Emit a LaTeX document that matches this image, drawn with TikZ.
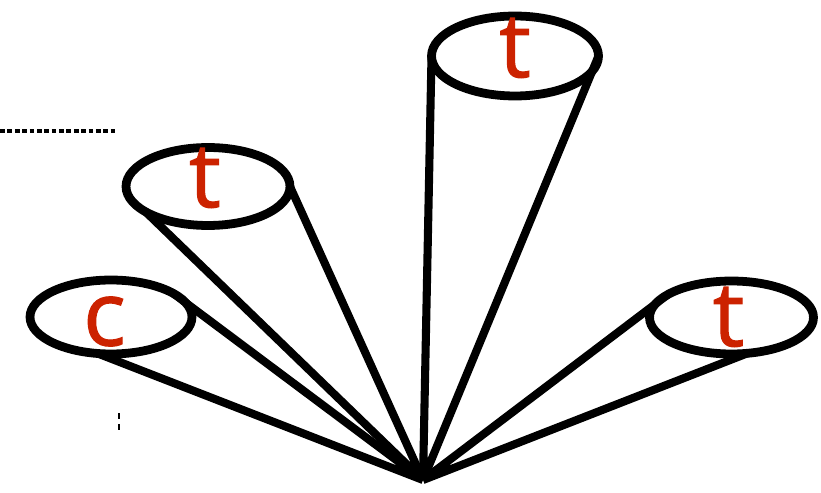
\documentclass[tikz,border=0pt]{standalone}
\usepackage{fontspec}
\newfontfamily\lettres[FakeBold=1.2]{Open Sans}
\usetikzlibrary{shapes.geometric}
\definecolor{rouge}{RGB}{204,34,0}
\begin{document}
\begin{tikzpicture}[x=0.02cm, y=-0.02cm,
  bord/.style={draw, ellipse, line width=5pt, inner sep=0pt, outer sep=0pt},
  lettre/.style={text=rouge, font=\lettres\fontsize{51}{51}\selectfont, inner sep=0pt},
  rayon/.style={line width=4.6pt}]
  \useasboundingbox (0,0) rectangle (821,493);

  % Sommet commun
  \coordinate (o) at (423,480);

  % Ellipses
  \node[bord, minimum width=3.34cm, minimum height=1.6cm] (haut) at (515,56) {};
  \node[bord, minimum width=3.28cm, minimum height=1.56cm] (gh) at (208,186.5) {};
  \node[bord, minimum width=3.24cm, minimum height=1.48cm] (gb) at (111,317) {};
  \node[bord, minimum width=3.28cm, minimum height=1.46cm] (dr) at (731.5,317.5) {};

  % Lettres
  \node[lettre] (lhaut) at (515,48) {t};
  \node[lettre] (lgh) at (205,178) {t};
  \node[lettre] (lgb) at (104.5,321.5) {c};
  \node[lettre] (ldr) at (728.5,317) {t};

  % Cones
  \draw[rayon] (haut.west) -- (o) (haut.east) -- (o);
  \draw[rayon] (gh.202) -- (o) (gh.east) -- (o);
  \draw[rayon] (gb.250) -- (o) (gb.21) -- (o);
  \draw[rayon] (dr.160) -- (o) (dr.294) -- (o);

  % Pointilles
  \coordinate (p1) at (0,131);
  \coordinate (p2) at (118,131);
  \draw[line width=1.9pt, dash pattern=on 2.7pt off 1.5pt] (p1) -- (p2);
  \coordinate (q1) at (119,413);
  \coordinate (q2) at (119,430);
  \draw[line width=1.7pt, dash pattern=on 3.4pt off 2.8pt] (q1) -- (q2);
\end{tikzpicture}
\end{document}
